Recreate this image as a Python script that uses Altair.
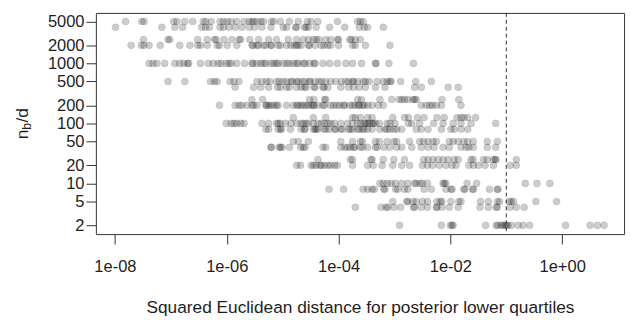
import altair as alt
import pandas as pd

# n_b/d levels (y) and, for each, log10 of the squared Euclidean distance (x)
nb_d_levels = [5000, 4000, 2500, 2000, 1000, 500, 400, 250, 200, 125, 100, 80, 50, 40, 25, 20, 10, 8, 5, 4, 2]

log10_dist_5000 = [-7.81, -7.52, -7.48, -6.95, -6.89, -6.75, -6.61, -6.42, -6.38, -6.28, -6.12, -6.06, -5.99, -5.92,
                   -5.82, -5.69, -5.60, -5.55, -5.52, -5.46, -5.39, -5.34, -5.20, -5.16, -5.04, -4.88, -4.72, -4.56,
                   -4.49, -4.37, -4.02, -3.66, -3.61, -3.56]
log10_dist_4000 = [-7.99, -7.16, -6.93, -6.79, -6.45, -6.38, -6.31, -6.12, -6.06, -5.96, -5.85, -5.73, -5.60, -5.50,
                   -5.37, -5.21, -4.99, -4.93, -4.77, -4.75, -4.61, -4.58, -4.54, -4.40, -4.16, -3.89, -3.63, -3.54,
                   -3.48, -3.20]
log10_dist_2500 = [-7.49, -7.05, -7.02, -6.52, -6.35, -6.22, -6.19, -6.05, -5.91, -5.78, -5.75, -5.59, -5.43, -5.25,
                   -5.11, -4.90, -4.75, -4.63, -4.54, -4.45, -4.40, -4.35, -4.23, -4.14, -4.02, -4.00, -3.80, -3.77,
                   -3.70, -3.61]
log10_dist_2000 = [-7.71, -7.53, -7.48, -7.39, -7.19, -6.84, -6.66, -6.52, -6.47, -6.35, -6.17, -6.13, -5.99, -5.82,
                   -5.55, -5.53, -5.46, -5.43, -5.34, -5.30, -5.21, -5.20, -5.08, -5.04, -4.93, -4.85, -4.79, -4.75,
                   -4.72, -4.67, -4.54, -4.52, -4.42, -4.31, -4.26, -4.19, -4.14, -4.00, -3.75, -3.70, -3.52, -3.08]
log10_dist_1000 = [-7.39, -7.32, -7.25, -7.11, -6.93, -6.84, -6.77, -6.70, -6.68, -6.47, -6.33, -6.24, -6.15, -6.10,
                   -6.01, -5.96, -5.92, -5.82, -5.68, -5.55, -5.53, -5.46, -5.39, -5.34, -5.30, -5.21, -5.16, -5.11,
                   -5.08, -4.99, -4.93, -4.88, -4.81, -4.75, -4.72, -4.63, -4.60, -4.52, -4.44, -4.42, -4.28, -4.16,
                   -4.02, -3.87, -3.75, -3.59, -3.34, -3.33, -3.10, -2.66]
log10_dist_500 = [-7.05, -6.75, -6.29, -6.22, -6.17, -5.94, -5.87, -5.78, -5.46, -5.37, -5.29, -5.23, -5.11, -5.06,
                  -4.99, -4.93, -4.85, -4.83, -4.75, -4.72, -4.65, -4.60, -4.52, -4.51, -4.42, -4.35, -4.30, -4.23,
                  -4.14, -4.05, -3.95, -3.87, -3.82, -3.75, -3.73, -3.66, -3.56, -3.52, -3.45, -3.31, -3.20, -3.13,
                  -3.08, -3.06, -2.89, -2.62, -2.34]
log10_dist_400 = [-5.85, -5.52, -5.39, -5.25, -5.09, -5.04, -4.93, -4.88, -4.75, -4.67, -4.61, -4.58, -4.44, -4.42,
                  -4.28, -4.26, -4.19, -3.96, -3.82, -3.73, -3.63, -3.52, -3.34, -3.17, -2.64, -2.52, -2.04, -1.86]
log10_dist_250 = [-5.55, -5.36, -4.52, -4.44, -4.25, -4.23, -3.66, -3.59, -3.26, -3.05, -2.92, -2.87, -2.82, -2.76,
                  -2.67, -2.64, -2.61, -2.15, -1.85]
log10_dist_200 = [-6.13, -5.85, -5.78, -5.73, -5.64, -5.55, -5.52, -5.46, -5.30, -5.29, -5.25, -5.21, -5.16, -5.11,
                  -5.08, -4.93, -4.81, -4.75, -4.72, -4.67, -4.63, -4.58, -4.54, -4.49, -4.45, -4.44, -4.37, -4.28,
                  -4.25, -4.14, -4.09, -4.03, -3.98, -3.91, -3.89, -3.80, -3.75, -3.70, -3.64, -3.63, -3.57, -3.54,
                  -3.48, -3.40, -3.29, -3.20, -2.52, -2.43, -2.37, -2.32, -2.25, -2.16, -1.81]
log10_dist_125 = [-4.81, -4.45, -4.23, -3.75, -3.70, -3.61, -3.48, -3.40, -3.03, -2.82, -2.75, -2.59, -2.47, -2.24,
                  -2.11, -1.88, -1.81, -1.76, -1.69, -1.55]
log10_dist_100 = [-6.01, -5.92, -5.87, -5.82, -5.75, -5.69, -5.37, -5.25, -5.11, -5.08, -5.04, -4.95, -4.85, -4.75,
                  -4.67, -4.63, -4.58, -4.54, -4.45, -4.37, -4.31, -4.25, -4.19, -4.14, -4.07, -3.96, -3.84, -3.75,
                  -3.66, -3.61, -3.54, -3.52, -3.48, -3.45, -3.40, -3.38, -3.34, -3.27, -3.13, -3.08, -2.99, -2.75,
                  -2.69, -2.55, -2.30, -2.13, -1.95, -1.81, -1.63, -1.19]
log10_dist_80 = [-5.30, -5.25, -5.08, -5.04, -5.02, -4.86, -4.67, -4.61, -4.60, -4.45, -4.42, -4.40, -4.37, -4.26,
                 -4.23, -4.17, -4.07, -4.05, -3.96, -3.93, -3.82, -3.79, -3.75, -3.66, -3.63, -3.57, -3.54, -3.48,
                 -3.40, -3.26, -3.17, -3.13, -3.08, -3.01, -2.96, -2.87, -2.61, -2.52, -2.40, -2.16, -1.99, -1.93,
                 -1.81, -1.69]
log10_dist_50 = [-4.81, -4.72, -4.54, -3.96, -3.75, -3.61, -3.57, -3.34, -3.27, -3.13, -3.01, -2.96, -2.73, -2.55,
                 -2.48, -2.40, -2.31, -2.25, -2.02, -1.95, -1.86, -1.76, -1.69, -1.59, -1.34, -1.16]
log10_dist_40 = [-5.21, -5.20, -5.06, -5.04, -5.01, -4.88, -4.68, -4.63, -4.60, -4.28, -4.23, -3.96, -3.89, -3.84,
                 -3.79, -3.73, -3.71, -3.61, -3.57, -3.48, -3.34, -3.31, -3.19, -3.08, -2.96, -2.87, -2.69, -2.52,
                 -2.40, -2.29, -2.13, -2.02, -1.81, -1.72, -1.67, -1.59, -1.34, -1.19]
log10_dist_25 = [-4.37, -3.79, -3.75, -3.42, -3.40, -3.20, -3.01, -2.82, -2.48, -2.40, -2.31, -2.22, -2.13, -2.04,
                 -1.93, -1.86, -1.63, -1.59, -1.41, -1.34, -1.23, -1.19, -1.19, -0.82]
log10_dist_20 = [-4.75, -4.68, -4.49, -4.45, -4.40, -4.33, -4.31, -4.25, -4.19, -4.14, -4.07, -4.02, -3.75, -3.48,
                 -3.38, -3.22, -3.03, -2.87, -2.73, -2.50, -2.41, -2.32, -2.20, -2.08, -1.97, -1.90, -1.67, -1.59,
                 -1.50, -1.38, -1.23, -0.93, -0.82]
log10_dist_10 = [-3.26, -3.20, -3.13, -3.06, -2.98, -2.87, -2.76, -2.64, -2.61, -2.54, -2.50, -2.41, -2.13, -2.11,
                 -2.08, -1.70, -1.53, -0.66, -0.45, -0.22]
log10_dist_8 = [-4.17, -3.91, -3.56, -3.48, -3.40, -3.36, -3.19, -3.17, -2.98, -2.94, -2.82, -2.76, -2.47, -2.34,
                -2.08, -1.99, -1.97, -1.76, -1.74, -1.60, -1.59, -1.30, -1.16, -1.15]
log10_dist_5 = [-3.03, -2.78, -2.76, -2.67, -2.61, -2.50, -2.41, -2.24, -2.18, -2.15, -1.99, -1.85, -1.81, -1.46,
                -1.32, -1.16, -1.12, -0.95, -0.91, -0.87, -0.47, -0.10]
log10_dist_4 = [-3.70, -3.24, -3.15, -3.12, -3.01, -2.89, -2.66, -2.64, -2.52, -2.41, -2.25, -2.24, -2.15, -2.02,
                -1.86, -1.47, -1.32, -1.18, -1.16, -0.93, -0.82, -0.68]
log10_dist_2 = [-2.91, -2.16, -2.00, -1.97, -1.95, -1.37, -1.18, -1.15, -1.09, -1.06, -1.02, -1.00, -0.97, -0.91,
                -0.79, -0.70, -0.58, 0.06, 0.50, 0.63, 0.75]

rows_by_level = {
    5000: log10_dist_5000, 4000: log10_dist_4000, 2500: log10_dist_2500, 2000: log10_dist_2000,
    1000: log10_dist_1000, 500: log10_dist_500, 400: log10_dist_400, 250: log10_dist_250,
    200: log10_dist_200, 125: log10_dist_125, 100: log10_dist_100, 80: log10_dist_80,
    50: log10_dist_50, 40: log10_dist_40, 25: log10_dist_25, 20: log10_dist_20,
    10: log10_dist_10, 8: log10_dist_8, 5: log10_dist_5, 4: log10_dist_4, 2: log10_dist_2,
}

threshold = [0.1]

x_tick_values = [1e-08, 1e-06, 1e-04, 1e-02, 1e+00]
x_tick_labels = ["1e-08", "1e-06", "1e-04", "1e-02", "1e+00"]
y_tick_values = [2, 5, 10, 20, 50, 100, 200, 500, 1000, 2000, 5000]
y_tick_labels = ["2", "5", "10", "20", "50", "100", "200", "500", "1000", "2000", "5000"]
x_domain = [4.56e-09, 12.8]
y_domain = [1.43, 6930]

x_title = "Squared Euclidean distance for posterior lower quartiles"
y_title_parts = ["n", "b", "/d"]

# ---- build table
recs = []
for lvl in nb_d_levels:
    for lx in rows_by_level[lvl]:
        recs.append({"dist": 10 ** lx, "nbd": lvl})
df = pd.DataFrame(recs)


def label_expr(values, labels):
    return "[" + ",".join("'%s'" % l for l in labels) + "][indexof([" + ",".join(repr(v) for v in values) + "], datum.value)]"


FONT = "Liberation Sans"
TXT = "#1e1e1e"

xscale = alt.Scale(type="log", domain=x_domain, nice=False, zero=False)
yscale = alt.Scale(type="log", domain=y_domain, nice=False, zero=False)

points = alt.Chart(df).mark_circle(
    size=52, color="black", fillOpacity=0.2, stroke="black", strokeOpacity=0.08, strokeWidth=1, opacity=1
).encode(
    x=alt.X("dist:Q", scale=xscale, axis=alt.Axis(
        values=x_tick_values, labelExpr=label_expr(x_tick_values, x_tick_labels),
        title=x_title, titleBaseline="alphabetic", titleY=79, titleFontWeight="normal",
        titleFontSize=17.5, titleFont=FONT, titleColor=TXT,
        tickSize=10, labelPadding=15, labelFontSize=16.7, labelFont=FONT, labelColor=TXT,
        domain=False, grid=False, tickColor="#333", labelFlush=False, labelOverlap=False)),
    y=alt.Y("nbd:Q", scale=yscale, axis=alt.Axis(
        values=y_tick_values, labelExpr=label_expr(y_tick_values, y_tick_labels),
        title="", tickSize=10, labelPadding=2, labelFontSize=16.7, labelFont=FONT, labelColor=TXT,
        domain=False, grid=False, tickColor="#333", labelFlush=False, labelOverlap=False)),
)

rule = alt.Chart(pd.DataFrame({"dist": threshold})).mark_rule(
    color="#333", strokeDash=[4, 3], strokeWidth=1
).encode(x=alt.X("dist:Q", scale=xscale))

# y-axis title n_b/d (subscript b), rotated
t_n = alt.Chart(pd.DataFrame({"t": [y_title_parts[0]]})).mark_text(
    angle=270, align="left", baseline="alphabetic", font=FONT, fontSize=17.5, color=TXT
).encode(text="t:N", x=alt.value(-69), y=alt.value(128))
t_b = alt.Chart(pd.DataFrame({"t": [y_title_parts[1]]})).mark_text(
    angle=270, align="left", baseline="alphabetic", font=FONT, fontSize=12.5, color=TXT
).encode(text="t:N", x=alt.value(-66), y=alt.value(118.3))
t_d = alt.Chart(pd.DataFrame({"t": [y_title_parts[2]]})).mark_text(
    angle=270, align="left", baseline="alphabetic", font=FONT, fontSize=17.5, color=TXT
).encode(text="t:N", x=alt.value(-69), y=alt.value(111))

chart = alt.layer(points, rule, t_n, t_b, t_d).properties(
    width=535, height=224,
    autosize=alt.AutoSizeParams(type="none"),
    padding={"left": 89, "top": 3, "right": 6, "bottom": 85},
).configure_view(stroke="#333", strokeWidth=1)

chart.save("out.html", embed_options={"renderer": "svg", "actions": False})
